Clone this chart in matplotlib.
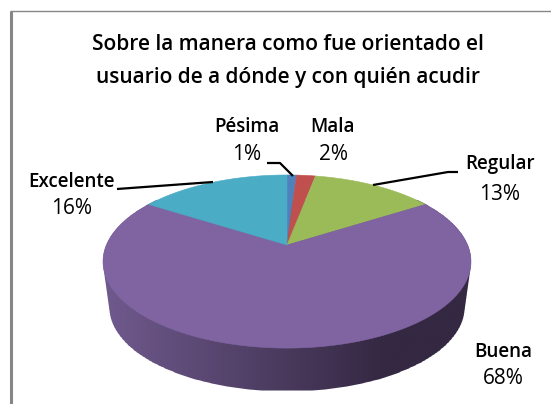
import numpy as np
import matplotlib
matplotlib.use("Agg")
import matplotlib.pyplot as plt
from matplotlib.patches import Polygon

plt.rcParams['font.family'] = ['Open Sans', 'DejaVu Sans']

title_lines = ["Sobre la manera como fue orientado el", "usuario de a dónde y con quién acudir"]
categories = ["Pésima", "Mala", "Regular", "Buena", "Excelente"]
percent = [1, 2, 13, 68, 16]
colors = ["#4F81BD", "#C0504D", "#9BBB59", "#8064A2", "#4BACC6"]

W, H = 551, 404
fig = plt.figure(figsize=(W / 100, H / 100), dpi=100, facecolor="white")
ax = fig.add_axes([0, 0, 1, 1])
ax.set_xlim(0, W)
ax.set_ylim(H, 0)
ax.axis("off")

# perspective mapping of the pie disc on to the picture
CX, CY = 287, 245
A, K, B = 83.4, 0.191, 180.6
DEPTH, SHRINK = 46.5, 0.965


def project(theta, r=1.0, drop=0.0):
    """theta is clockwise from the top, as a fraction of the full turn."""
    t = 2 * np.pi * np.asarray(theta)
    x, y = r * np.sin(t), r * np.cos(t)
    d = 1 + K * y
    scale = 1 - (1 - SHRINK) * (drop / DEPTH)
    return CX + scale * B * x / d, CY - scale * A * y / d + drop


# side wall: silhouette of the disc swept downwards, gradient clipped to it
sweep = [project(np.linspace(0, 1, 720), drop=dd) for dd in np.linspace(0, DEPTH, 60)]
sx = np.concatenate([s[0] for s in sweep])
sy = np.concatenate([s[1] for s in sweep])
rows = np.arange(np.floor(sy.min()), np.ceil(sy.max()) + 1)
idx = np.digitize(sy, rows)
left, right, yy = [], [], []
for i in np.unique(idx):
    m = idx == i
    left.append(sx[m].min())
    right.append(sx[m].max())
    yy.append(sy[m].mean())
outline = np.column_stack([np.r_[left, right[::-1]], np.r_[yy, yy[::-1]]])
clip = Polygon(outline, closed=True, transform=ax.transData, facecolor="none", edgecolor="none")
ax.add_patch(clip)
light = np.array([0x70, 0x5A, 0x8E]) / 255
dark = np.array([0x34, 0x28, 0x42]) / 255
u = np.clip((np.linspace(100, 475, 376) - 103) / (385 - 103), 0, 1)
grad = (light[None, :] * (1 - u[:, None]) + dark[None, :] * u[:, None])[None, :, :]
img = ax.imshow(grad, extent=(100, 475, 400, 200), aspect="auto", interpolation="bilinear", zorder=1)
img.set_clip_path(clip)
ax.set_xlim(0, W)
ax.set_ylim(H, 0)

# top face
edges = np.cumsum([0] + percent) / sum(percent)
for start, stop, col in zip(edges[:-1], edges[1:], colors):
    th = np.linspace(start, stop, 200)
    x, y = project(th)
    pts = np.column_stack([np.r_[CX, x], np.r_[CY, y]])
    ax.add_patch(Polygon(pts, closed=True, facecolor=col, edgecolor=col, linewidth=0.4, zorder=2))

# leader lines
leaders = [
    ([267, 280, 293], [163, 163, 176]),
    ([458, 448, 373], [172, 172, 185]),
    ([117, 213], [189, 182]),
]
for lx, ly in leaders:
    ax.plot(lx, ly, color="black", lw=1.6, solid_capstyle="butt", zorder=3)

# labels
label_pos = [(247, 127, 155), (333, 127, 155), (500, 164, 195), (503, 352, 379), (72, 182, 208)]
for name, val, (px, y1, y2) in zip(categories, percent, label_pos):
    ax.text(px, y1, name, ha="center", va="center", fontsize=13.5, fontweight="semibold", color="black", zorder=4)
    ax.text(px, y2, f"{val}%", ha="center", va="center", fontsize=15, color="black", zorder=4)

# title
ax.text(287.5, 45, title_lines[0], ha="center", va="center", fontsize=15, fontweight="semibold", color="black")
ax.text(287.5, 77, title_lines[1], ha="center", va="center", fontsize=15, fontweight="semibold", color="black")

# frame, left and top only
ax.plot([10.5, 10.5], [H, 11], color="#868686", lw=2.2, solid_capstyle="butt", zorder=5)
ax.plot([9.5, W], [11, 11], color="#868686", lw=1.0, solid_capstyle="butt", zorder=5)

fig.savefig("out.png", dpi=100, facecolor="white")
